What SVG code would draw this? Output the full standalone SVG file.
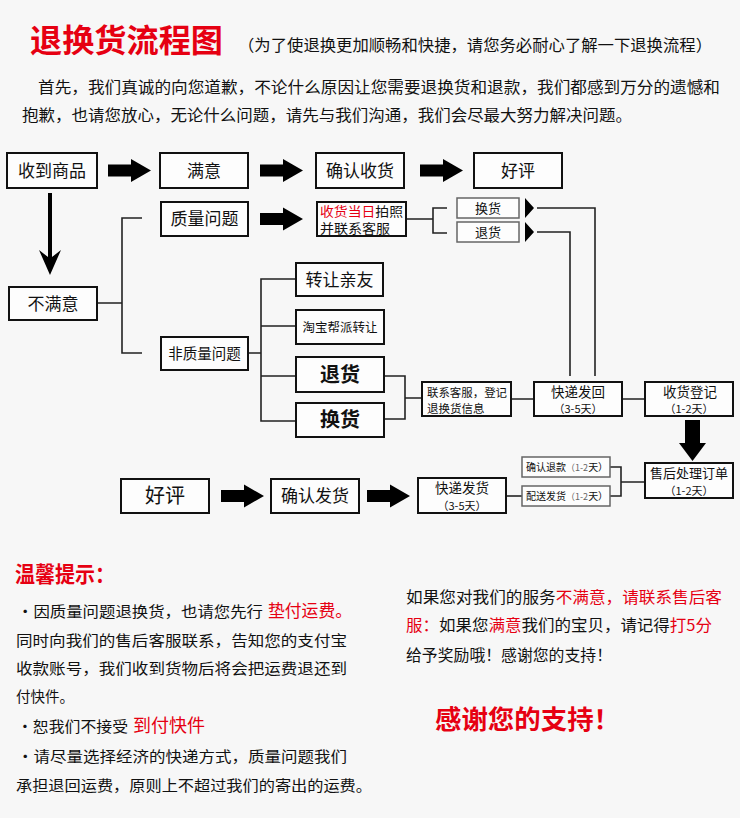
<svg xmlns="http://www.w3.org/2000/svg" xmlns:xlink="http://www.w3.org/1999/xlink" width="740" height="818" viewBox="0 0 740 818">
<style>
text{font-family:"Noto Sans CJK SC","Noto Sans",sans-serif;fill:#111;}
.box{fill:#fdfdfd;stroke:#111;stroke-width:2;}
.sbox{fill:#fdfdfd;stroke:#666;stroke-width:1.5;}
.ln{fill:none;stroke:#222;stroke-width:1.6;}
.c{text-anchor:middle;}
.red{fill:#e60012;}
.arr{fill:#000;}
</style>
<defs>
<path id="ra" d="M0,-6 H23 V-11.5 L43,0 L23,11.5 V6 H0 Z"/>
</defs>
<rect x="0" y="0" width="740" height="818" fill="#f7f7f7"/>

<g id="header">
<text x="30" y="52" class="red" font-size="32" font-weight="bold" textLength="193" lengthAdjust="spacingAndGlyphs">退换货流程图</text>
<text x="238" y="51" font-size="16" textLength="474" lengthAdjust="spacingAndGlyphs">（为了使退换更加顺畅和快捷，请您务必耐心了解一下退换流程）</text>
<text x="38" y="93" font-size="15.5" textLength="682" lengthAdjust="spacingAndGlyphs">首先，我们真诚的向您道歉，不论什么原因让您需要退换货和退款，我们都感到万分的遗憾和</text>
<text x="22" y="121" font-size="15.5" textLength="610" lengthAdjust="spacingAndGlyphs">抱歉，也请您放心，无论什么问题，请先与我们沟通，我们会尽最大努力解决问题。</text>
</g>

<g id="connectors">
<use xlink:href="#ra" href="#ra" x="108" y="170.5" class="arr"/>
<use xlink:href="#ra" href="#ra" x="260" y="170.5" class="arr"/>
<use xlink:href="#ra" href="#ra" x="420" y="170.5" class="arr"/>
<use xlink:href="#ra" href="#ra" x="260" y="219" class="arr"/>
<use xlink:href="#ra" href="#ra" x="221" y="496" class="arr"/>
<use xlink:href="#ra" href="#ra" x="367" y="496" class="arr"/>
<path class="arr" d="M48,193 H52 V257 L61,250 L50,275 L39,250 L48,257 Z"/>
<path class="arr" d="M685,420 H700 V443 H706 L692.5,461 L679,443 H685 Z"/>
<path class="ln" d="M97,303 H122 M142,218 H122 V353 H142"/>
<path class="ln" d="M406,219 H433 M447,208 H433 V233 H447"/>
<path class="arr" d="M525,198 L534,208 L525,218 Z M525,222 L534,232 L525,242 Z"/>
<path class="ln" d="M537,208 H595 V376 M537,232 H570 V376"/>
<path class="ln" d="M248,353 H261 M295,279 H261 V421 H295 M261,326 H295 M261,376 H295"/>
<path class="ln" d="M384,376 H405 V419 H384 M405,398 H422"/>
<path class="ln" d="M511,399 H534 M622,399 H645"/>
<path class="ln" d="M645,482 H621 M610,467 H621 V496 H610"/>
<path class="ln" d="M506,496 H522"/>
</g>

<g id="n-received"><rect class="box" x="7" y="153" width="90" height="35"/><text class="c" x="52" y="176.5" font-size="17">收到商品</text></g>
<g id="n-satisfied"><rect class="box" x="160" y="153" width="88" height="35"/><text class="c" x="204" y="176.5" font-size="17">满意</text></g>
<g id="n-confirm"><rect class="box" x="316" y="153" width="88" height="35"/><text class="c" x="360" y="176.5" font-size="17">确认收货</text></g>
<g id="n-good"><rect class="box" x="474" y="153" width="88" height="35"/><text class="c" x="518" y="176.5" font-size="17">好评</text></g>
<g id="n-unsatisfied"><rect class="box" x="9" y="287" width="88" height="33"/><text class="c" x="53" y="309.5" font-size="17">不满意</text></g>
<g id="n-quality"><rect class="box" x="161" y="202" width="87" height="34"/><text class="c" x="204.5" y="225" font-size="17">质量问题</text></g>
<g id="n-photo"><rect class="box" x="317" y="202" width="89" height="34"/><text x="320" y="215.5" font-size="13" textLength="83" lengthAdjust="spacingAndGlyphs"><tspan class="red">收货当日</tspan>拍照</text><text x="320" y="233" font-size="13" textLength="70" lengthAdjust="spacingAndGlyphs">并联系客服</text></g>
<g id="n-exchange-s"><rect class="sbox" x="457" y="198" width="62" height="20"/><text class="c" x="488" y="212.5" font-size="13">换货</text></g>
<g id="n-return-s"><rect class="sbox" x="457" y="222" width="62" height="20"/><text class="c" x="488" y="236.5" font-size="13">退货</text></g>
<g id="n-nonquality"><rect class="box" x="161" y="337" width="87" height="33"/><text class="c" x="204.5" y="358.5" font-size="14.5">非质量问题</text></g>
<g id="n-friend"><rect class="box" x="296" y="263" width="87" height="33"/><text class="c" x="339.5" y="285.5" font-size="17">转让亲友</text></g>
<g id="n-taobao"><rect class="box" x="296" y="310" width="88" height="34"/><text class="c" x="340" y="331.5" font-size="12.5">淘宝帮派转让</text></g>
<g id="n-return"><rect class="box" x="296" y="357" width="88" height="35"/><text class="c" x="340" y="381.5" font-size="20" font-weight="bold">退货</text></g>
<g id="n-exchange"><rect class="box" x="296" y="403" width="88" height="34"/><text class="c" x="340" y="427" font-size="20" font-weight="bold">换货</text></g>
<g id="n-contact"><rect class="box" x="422" y="382" width="89" height="34"/><text x="427" y="396.5" font-size="11.5" textLength="80" lengthAdjust="spacingAndGlyphs">联系客服，登记</text><text x="427" y="412.5" font-size="11.5">退换货信息</text></g>
<g id="n-shipback"><rect class="box" x="534" y="382" width="88" height="34"/><text class="c" x="578" y="396.5" font-size="13.5">快递发回</text><text class="c" x="578" y="413" font-size="11">（3-5天）</text></g>
<g id="n-register"><rect class="box" x="645" y="382" width="88" height="34"/><text class="c" x="690" y="396.5" font-size="13.5">收货登记</text><text class="c" x="689" y="413" font-size="11">（1-2天）</text></g>
<g id="n-process"><rect class="box" x="645" y="463" width="88" height="35"/><text class="c" x="689" y="477.5" font-size="13">售后处理订单</text><text class="c" x="689" y="494.5" font-size="11">（1-2天）</text></g>
<g id="n-refund"><rect class="sbox" x="522" y="457" width="88" height="20"/><text x="526" y="471" font-size="10">确认退款<tspan fill="#666" font-size="9">（1-2</tspan>天）</text></g>
<g id="n-deliver"><rect class="sbox" x="522" y="486" width="88" height="20"/><text x="526" y="500" font-size="10">配送发货<tspan fill="#666" font-size="9">（1-2</tspan>天）</text></g>
<g id="n-ship"><rect class="box" x="418" y="478" width="88" height="35"/><text class="c" x="462" y="492.5" font-size="13.5">快递发货</text><text class="c" x="462" y="509.5" font-size="11">（3-5天）</text></g>
<g id="n-confirmship"><rect class="box" x="271" y="479" width="88" height="34"/><text class="c" x="315" y="502" font-size="17">确认发货</text></g>
<g id="n-good2"><rect class="box" x="121" y="479" width="88" height="34"/><text class="c" x="165" y="503" font-size="20">好评</text></g>

<g id="tips">
<text x="15" y="582" class="red" font-size="22" font-weight="bold" textLength="100" lengthAdjust="spacingAndGlyphs">温馨提示：</text>
<text x="17" y="617" font-size="15" textLength="246" lengthAdjust="spacingAndGlyphs">・因质量问题退换货，也请您先行</text>
<text x="268" y="617" class="red" font-size="17" textLength="84" lengthAdjust="spacingAndGlyphs">垫付运费。</text>
<text x="16" y="646" font-size="15" textLength="331" lengthAdjust="spacingAndGlyphs">同时向我们的售后客服联系，告知您的支付宝</text>
<text x="16" y="674" font-size="15" textLength="331" lengthAdjust="spacingAndGlyphs">收款账号，我们收到货物后将会把运费退还到</text>
<text x="16" y="702" font-size="15" textLength="58" lengthAdjust="spacingAndGlyphs">付快件。</text>
<text x="17" y="732" font-size="15" textLength="111" lengthAdjust="spacingAndGlyphs">・恕我们不接受</text>
<text x="133" y="732" class="red" font-size="18" textLength="72" lengthAdjust="spacingAndGlyphs">到付快件</text>
<text x="17" y="762" font-size="15" textLength="330" lengthAdjust="spacingAndGlyphs">・请尽量选择经济的快递方式，质量问题我们</text>
<text x="16" y="791" font-size="15" textLength="356" lengthAdjust="spacingAndGlyphs">承担退回运费，原则上不超过我们的寄出的运费。</text>
</g>

<g id="thanks">
<text x="406" y="603" font-size="16" textLength="316" lengthAdjust="spacingAndGlyphs">如果您对我们的服务<tspan class="red">不满意，请联系售后客</tspan></text>
<text x="406" y="631" font-size="16" textLength="306" lengthAdjust="spacingAndGlyphs"><tspan class="red">服：</tspan>如果您<tspan class="red">满意</tspan>我们的宝贝，请记得<tspan class="red">打5分</tspan></text>
<text x="406" y="661" font-size="16" textLength="206" lengthAdjust="spacingAndGlyphs">给予奖励哦！感谢您的支持！</text>
<text x="435" y="729" class="red" font-size="26" font-weight="bold" textLength="185" lengthAdjust="spacingAndGlyphs">感谢您的支持！</text>
</g>
</svg>
